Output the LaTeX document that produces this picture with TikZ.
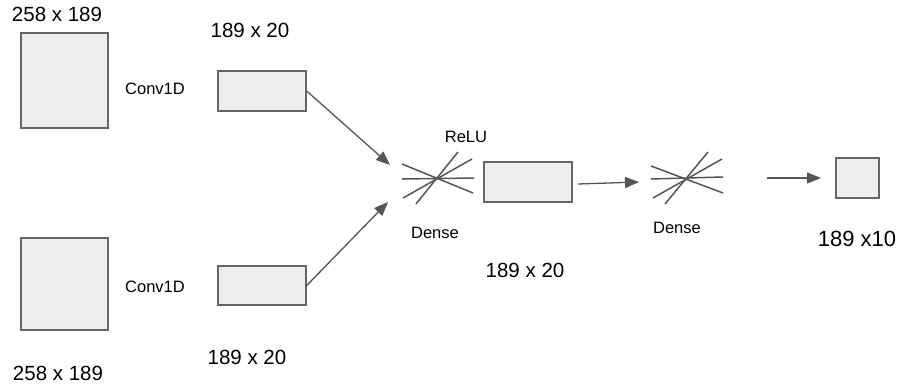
\documentclass[tikz,border=0pt]{standalone}
\usepackage{fontspec}
\setmainfont{Liberation Sans}
\usetikzlibrary{arrows.meta}
\definecolor{boxfill}{HTML}{EEEEEE}
\definecolor{boxline}{HTML}{666666}
\definecolor{inkgray}{HTML}{555555}
\tikzset{
  layer/.style={draw=boxline, fill=boxfill, line width=1.4pt, inner sep=0pt},
  flow/.style={draw=inkgray, line width=1.3pt, -{Triangle[length=14pt,width=11pt]}},
  spoke/.style={draw=inkgray, line width=1.5pt},
  dimlabel/.style={font=\fontsize{20.5}{23}\selectfont, inner sep=0pt},
  oplabel/.style={font=\fontsize{16.5}{19}\selectfont, inner sep=0pt},
}
\begin{document}
\begin{tikzpicture}[x=1pt, y=-1pt]
\useasboundingbox (0,0) rectangle (900,386);

% input matrices
\node[layer, minimum width=87pt, minimum height=95pt] (inA) at (64.5,80.5) {};
\node[layer, minimum width=87pt, minimum height=92pt] (inB) at (64.5,284) {};
\node[dimlabel] (inAlbl) at (57,14) {258 x 189};
\node[dimlabel] (inBlbl) at (58,373) {258 x 189};

% convolution outputs
\node[oplabel] (convA) at (155,89) {Conv1D};
\node[oplabel] (convB) at (155,287) {Conv1D};
\node[layer, minimum width=88pt, minimum height=40pt] (cA) at (262,91) {};
\node[layer, minimum width=88pt, minimum height=39pt] (cB) at (262,285.5) {};
\node[dimlabel] (cAlbl) at (250,30) {189 x 20};
\node[dimlabel] (cBlbl) at (247,357) {189 x 20};

% first dense layer
\coordinate (d1) at (437,178);
\draw[spoke] (402,164) -- (473,193);
\draw[spoke] (402,179) -- (474,178);
\draw[spoke] (403,198) -- (472,159);
\draw[spoke] (416,204) -- (458,152);
\coordinate (d1inA) at (390,165);
\coordinate (d1inB) at (388,202);
\node[oplabel] (relu) at (466,137) {ReLU};
\node[oplabel] (dense1) at (435,233) {Dense};

\draw[flow] (cA.east) -- (d1inA);
\draw[flow] (cB.east) -- (d1inB);

% hidden representation
\node[layer, minimum width=88pt, minimum height=40pt] (hid) at (528,182) {};
\node[dimlabel] (hidlbl) at (525,270) {189 x 20};

% second dense layer
\coordinate (d2) at (687,178);
\draw[spoke] (651,166) -- (723,193);
\draw[spoke] (651,179) -- (723,177);
\draw[spoke] (653,198) -- (722,159);
\draw[spoke] (665,204) -- (708,152);
\coordinate (d2in) at (639,182);
\coordinate (d2out) at (767,178);
\node[oplabel] (dense2) at (677,228) {Dense};

\coordinate (hidout) at (578,184);
\draw[flow] (hidout) -- (d2in);

% output
\node[layer, minimum width=43pt, minimum height=40pt] (out) at (857.5,178) {};
\node[font=\fontsize{22}{25}\selectfont, inner sep=0pt] (outlbl) at (857,239) {189 x10};
\coordinate (outin) at (821,178);
\draw[flow] (d2out) -- (outin);
\end{tikzpicture}
\end{document}
